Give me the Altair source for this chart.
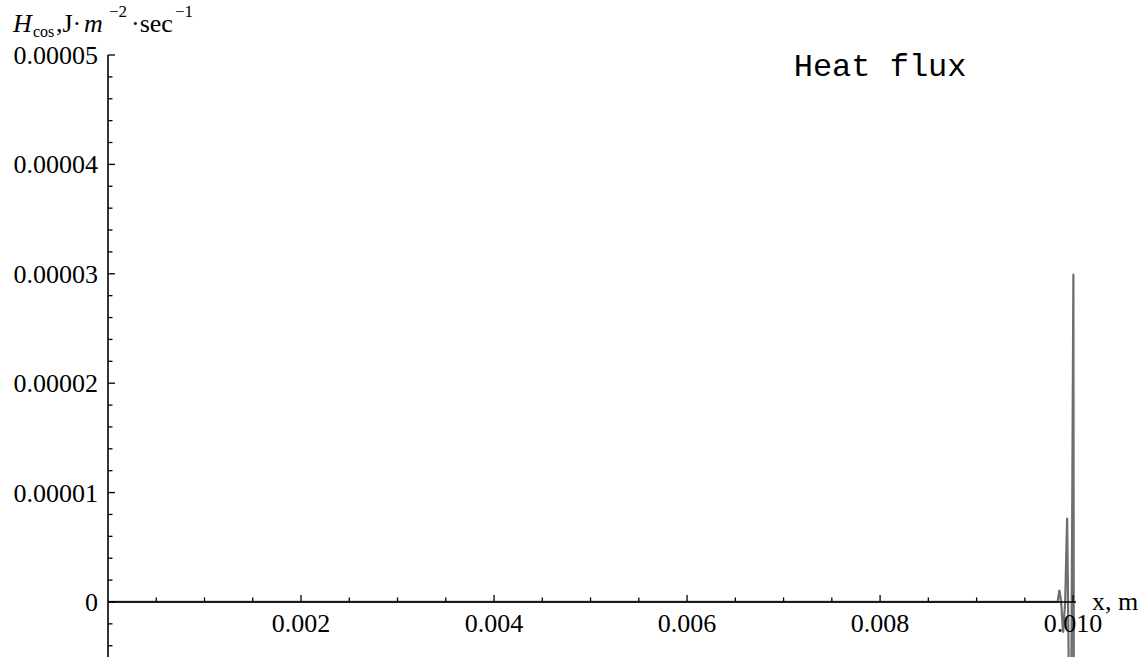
import altair as alt
import pandas as pd

# Heat flux profile H_cos(x) along the slab, in J·m^-2·sec^-1
x_m = [0.0, 0.002, 0.004, 0.006, 0.008, 0.0098, 0.00984, 0.009858, 0.009876,
       0.009896, 0.009918, 0.009938, 0.00996, 0.00998, 0.010003, 0.010008]
h_cos = [0.0, 0.0, 0.0, 0.0, 0.0, 0.0, 0.0, 1.1e-6, 0.0,
         -2.8e-6, 0.0, 7.7e-6, -1.0e-5, -1.0e-5, 3.0e-5, -1.5e-5]

# Axis ranges and ticks
x_range = [0.0, 0.01003]
y_range = [-5.03e-6, 5.0e-5]
x_major = [0.002, 0.004, 0.006, 0.008, 0.010]
x_major_labels = ["0.002", "0.004", "0.006", "0.008", "0.010"]
x_minor = [0.0005, 0.001, 0.0015, 0.0025, 0.003, 0.0035, 0.0045, 0.005, 0.0055,
           0.0065, 0.007, 0.0075, 0.0085, 0.009, 0.0095]
y_major = [0.0, 1e-5, 2e-5, 3e-5, 4e-5, 5e-5]
y_major_labels = ["0", "0.00001", "0.00002", "0.00003", "0.00004", "0.00005"]
y_minor = [-4e-6, -2e-6, 2e-6, 4e-6, 6e-6, 8e-6, 1.2e-5, 1.4e-5, 1.6e-5, 1.8e-5,
           2.2e-5, 2.4e-5, 2.6e-5, 2.8e-5, 3.2e-5, 3.4e-5, 3.6e-5, 3.8e-5,
           4.2e-5, 4.4e-5, 4.6e-5, 4.8e-5]

SERIF = "Liberation Serif"
MONO = "Liberation Mono"

xs = alt.Scale(domain=x_range, nice=False, zero=False)
ys = alt.Scale(domain=y_range, nice=False, zero=False)


def X(field):
    return alt.X(field, type="quantitative", scale=xs, axis=None)


def Y(field):
    return alt.Y(field, type="quantitative", scale=ys, axis=None)


curve_df = pd.DataFrame({"x": x_m, "h": h_cos, "i": list(range(len(x_m)))})

curve = alt.Chart(curve_df).mark_line(color="#6e6e6e", strokeWidth=2.2, clip=True).encode(
    x=X("x"), y=Y("h"), order=alt.Order("i", type="quantitative"),
)

# Axes crossing at the origin
x_axis_line = alt.Chart(pd.DataFrame({"a": [x_range[0]], "b": [x_range[1]], "z": [0.0]})).mark_rule(
    color="black", strokeWidth=1.6
).encode(x=X("a"), x2=alt.X2("b"), y=Y("z"))

y_axis_line = alt.Chart(pd.DataFrame({"a": [y_range[0]], "b": [y_range[1]], "z": [0.0]})).mark_rule(
    color="black", strokeWidth=1.6
).encode(y=Y("a"), y2=alt.Y2("b"), x=X("z"))


def x_ticks(values, length):
    df = pd.DataFrame({"v": values, "z": [0.0] * len(values)})
    return alt.Chart(df).mark_rule(
        color="black", strokeWidth=1.3, y2Offset=-length
    ).encode(x=X("v"), y=Y("z"), y2=alt.Y2("z"))


def y_ticks(values, length):
    df = pd.DataFrame({"v": values, "z": [0.0] * len(values)})
    return alt.Chart(df).mark_rule(
        color="black", strokeWidth=1.3, x2Offset=length
    ).encode(y=Y("v"), x=X("z"), x2=alt.X2("z"))


x_labels = alt.Chart(pd.DataFrame({"v": x_major, "t": x_major_labels, "z": [0.0] * len(x_major)})).mark_text(
    font=SERIF, fontSize=26, color="black", baseline="alphabetic", dy=30
).encode(x=X("v"), y=Y("z"), text="t:N")

y_labels = alt.Chart(pd.DataFrame({"v": y_major, "t": y_major_labels, "z": [0.0] * len(y_major)})).mark_text(
    font=SERIF, fontSize=26, color="black", baseline="alphabetic", align="right", dx=-10, dy=9
).encode(y=Y("v"), x=X("z"), text="t:N")


def note(text, x, y, dx, dy, size=26, italic=False, font=SERIF, align="left"):
    props = dict(font=font, fontSize=size, color="black", baseline="alphabetic",
                 align=align, dx=dx, dy=dy)
    if italic:
        props["fontStyle"] = "italic"
    df = pd.DataFrame({"x": [x], "y": [y], "t": [text]})
    return alt.Chart(df).mark_text(**props).encode(x=X("x"), y=Y("y"), text="t:N")


top = y_range[1]
y_title = [
    note("H", 0.0, top, -95, -23, italic=True),
    note("cos", 0.0, top, -75, -18, size=16),
    note(",J\u00b7", 0.0, top, -52, -23),
    note("m", 0.0, top, -24, -23, italic=True),
    note("\u22122", 0.0, top, 1, -38, size=17),
    note("\u00b7sec", 0.0, top, 23, -23),
    note("\u22121", 0.0, top, 67, -38, size=17),
]
x_title = note("x, m", x_range[1], 0.0, 16, 8)
heading = note("Heat flux", 0.008, top, 0, 21, size=32, font=MONO, align="center")

chart = alt.layer(
    curve,
    x_axis_line, y_axis_line,
    x_ticks(x_major, 7), x_ticks(x_minor, 4.5),
    y_ticks(y_major, 7), y_ticks(y_minor, 4.5),
    x_labels, y_labels,
    *y_title, x_title, heading,
).properties(
    width=968,
    height=602,
    padding={"left": 108, "top": 55, "right": 70, "bottom": 0},
    autosize=alt.AutoSizeParams(type="none"),
    background="white",
).configure_view(stroke=None)

chart.save("out.html", embed_options={"renderer": "svg", "actions": False})
